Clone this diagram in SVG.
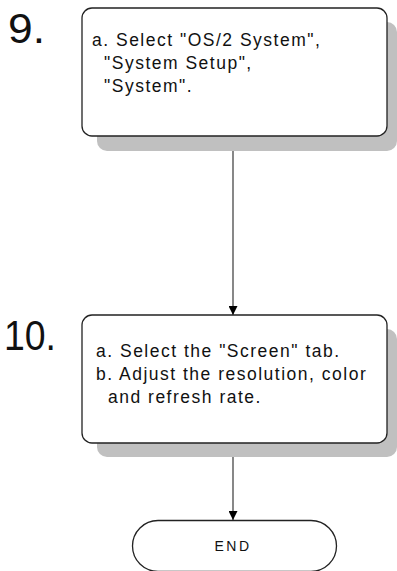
<svg xmlns="http://www.w3.org/2000/svg" width="397" height="571" viewBox="0 0 397 571">
<style>
.shadow{fill:#c0c0c0;stroke:none}
.box{fill:#fff;stroke:#222;stroke-width:1.3}
.t{font-family:"Liberation Sans",Arial,sans-serif;font-size:17.5px;letter-spacing:1.5px;fill:#111}
.num{font-family:"Liberation Sans",Arial,sans-serif;font-size:43px;fill:#111}
.conn{stroke:#555;stroke-width:1.4;fill:none}
</style>
<defs>
<marker id="ah" markerWidth="10" markerHeight="9" refX="9" refY="4.5" orient="auto" markerUnits="userSpaceOnUse">
<path d="M0,0 L9,4.5 L0,9 Z" fill="#000"/>
</marker>
</defs>
<g id="connectors">
<line class="conn" x1="233" y1="136" x2="233" y2="315" marker-end="url(#ah)"/>
<line class="conn" x1="233" y1="443" x2="233" y2="520" marker-end="url(#ah)"/>
</g>
<g id="step9">
<text class="num" x="8" y="43" textLength="37" lengthAdjust="spacingAndGlyphs">9.</text>
<rect class="shadow" x="97" y="22" width="300" height="129" rx="10"/>
<rect class="box" x="82" y="8" width="305" height="128" rx="10"/>
<text class="t" x="92" y="46">a. Select "OS/2 System",</text>
<text class="t" x="104" y="69">"System Setup",</text>
<text class="t" x="104" y="92">"System".</text>
</g>
<g id="step10">
<text class="num" x="4" y="350" textLength="52" lengthAdjust="spacingAndGlyphs">10.</text>
<rect class="shadow" x="97" y="329" width="300" height="128" rx="10"/>
<rect class="box" x="82" y="315" width="305" height="128" rx="10"/>
<text class="t" x="96" y="357">a. Select the "Screen" tab.</text>
<text class="t" x="96" y="380">b. Adjust the resolution, color</text>
<text class="t" x="108" y="403">and refresh rate.</text>
</g>
<g id="end">
<rect class="box" x="132.5" y="520.5" width="204" height="51" rx="25.5"/>
<text class="t" x="233" y="551" text-anchor="middle" style="font-size:14px;letter-spacing:2.5px">END</text>
</g>
</svg>
